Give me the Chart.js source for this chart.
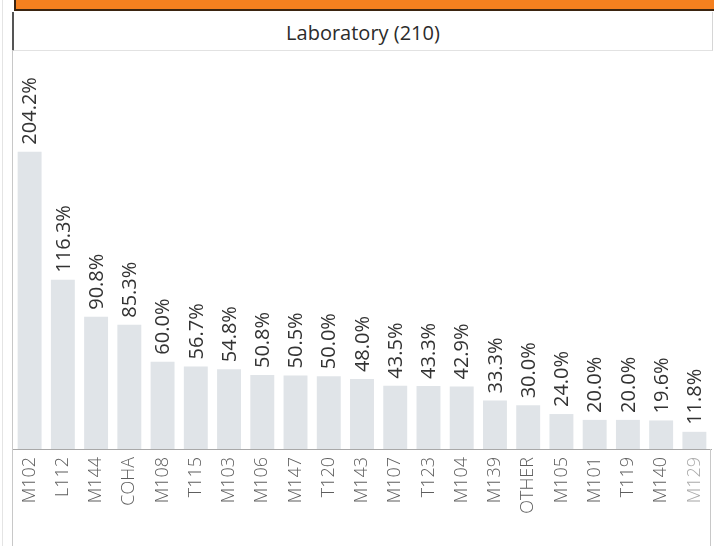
<!DOCTYPE html>
<html>
<head>
<meta charset="utf-8">
<script src="https://cdn.jsdelivr.net/npm/chart.js@4"></script>
<style>
  html, body { margin: 0; padding: 0; background: #fff; }
  body { width: 716px; height: 546px; position: relative; overflow: hidden; font-family: "Open Sans", sans-serif; }
  #banner { position: absolute; left: 14px; top: 0; width: 698px; height: 9px; background: #f5801f;
            border-left: 2px solid #3b2410; border-bottom: 2px solid #3b2410; }
  #header { position: absolute; left: 12px; top: 12px; width: 698px; height: 38px;
            border-left: 2px solid #555; border-right: 1px solid #d6d6d6; border-bottom: 1px solid #e2e2e2;
            text-align: center; line-height: 41px; font-size: 20px; color: #2b2b2b; }
  #edge { position: absolute; left: 2px; top: 0; width: 1px; height: 546px; background: #e4e4e4; }
  #wrap { position: absolute; left: 12px; top: 50px; width: 700px; height: 496px; }
</style>
</head>
<body>
<div id="edge"></div>
<div id="banner"></div>
<div id="header">Laboratory (210)</div>
<div id="wrap"><canvas id="chart"></canvas></div>
<script>
// catégories et valeurs
const labs = ['M102', 'L112', 'M144', 'COHA', 'M108', 'T115', 'M103', 'M106', 'M147', 'T120', 'M143',
              'M107', 'T123', 'M104', 'M139', 'OTHER', 'M105', 'M101', 'T119', 'M140', 'M129'];
const pct = [204.2, 116.3, 90.8, 85.3, 60.0, 56.7, 54.8, 50.8, 50.5, 50.0, 48.0,
             43.5, 43.3, 42.9, 33.3, 30.0, 24.0, 20.0, 20.0, 19.6, 11.8];

// étiquettes de valeur au-dessus des barres, tournées de 90°
const valueLabels = {
    id: 'valueLabels',
    afterDatasetsDraw(chart) {
        const ctx = chart.ctx;
        const meta = chart.getDatasetMeta(0);
        ctx.save();
        ctx.font = '20px "Open Sans"';
        ctx.fillStyle = '#333';
        ctx.textAlign = 'left';
        ctx.textBaseline = 'middle';
        meta.data.forEach(function (bar, i) {
            ctx.save();
            ctx.translate(bar.x + 1, bar.y - 7);
            ctx.rotate(-Math.PI / 2);
            ctx.fillText(pct[i].toFixed(1) + '%', 0, 0);
            ctx.restore();
        });
        ctx.restore();
    }
};

// lignes du cadre : axe de base + bords sous l'axe
const frame = {
    id: 'frame',
    afterDraw(chart) {
        const ctx = chart.ctx;
        const a = chart.chartArea;
        ctx.save();
        ctx.strokeStyle = '#a8a8a8';
        ctx.lineWidth = 1;
        ctx.beginPath();
        ctx.moveTo(0, Math.round(a.bottom) + 0.5);
        ctx.lineTo(chart.width, Math.round(a.bottom) + 0.5);
        ctx.stroke();
        ctx.strokeStyle = '#c8c8c8';
        ctx.beginPath();
        ctx.moveTo(0.5, 0);
        ctx.lineTo(0.5, chart.height);
        ctx.moveTo(698.5, a.bottom);
        ctx.lineTo(698.5, chart.height);
        ctx.stroke();
        ctx.restore();
    }
};

new Chart(document.getElementById('chart'), {
    type: 'bar',
    data: {
        labels: labs,
        datasets: [{
            data: pct,
            backgroundColor: '#e0e4e8',
            borderWidth: 0,
            barPercentage: 0.72,
            categoryPercentage: 1.0
        }]
    },
    options: {
        responsive: true,
        maintainAspectRatio: false,
        animation: false,
        layout: { padding: { left: 1, right: 1, top: 0, bottom: 0 } },
        plugins: {
            legend: { display: false },
            tooltip: { enabled: false }
        },
        scales: {
            x: {
                grid: { display: false, drawTicks: false },
                border: { display: false },
                afterFit: function (scale) {
                    // hauteur fixe et pas de marge latérale pour les étiquettes tournées
                    scale.height = 97;
                    scale.paddingLeft = 0;
                    scale.paddingRight = 0;
                },
                ticks: {
                    minRotation: 90,
                    maxRotation: 90,
                    autoSkip: false,
                    padding: 8,
                    font: { family: 'Open Sans', size: 18, weight: '300' },
                    color: function (c) { return c.index === labs.length - 1 ? '#aaa' : '#5e5e5e'; }
                }
            },
            y: {
                display: false,
                min: 0,
                max: 274
            }
        }
    },
    plugins: [valueLabels, frame]
});
</script>
</body>
</html>
